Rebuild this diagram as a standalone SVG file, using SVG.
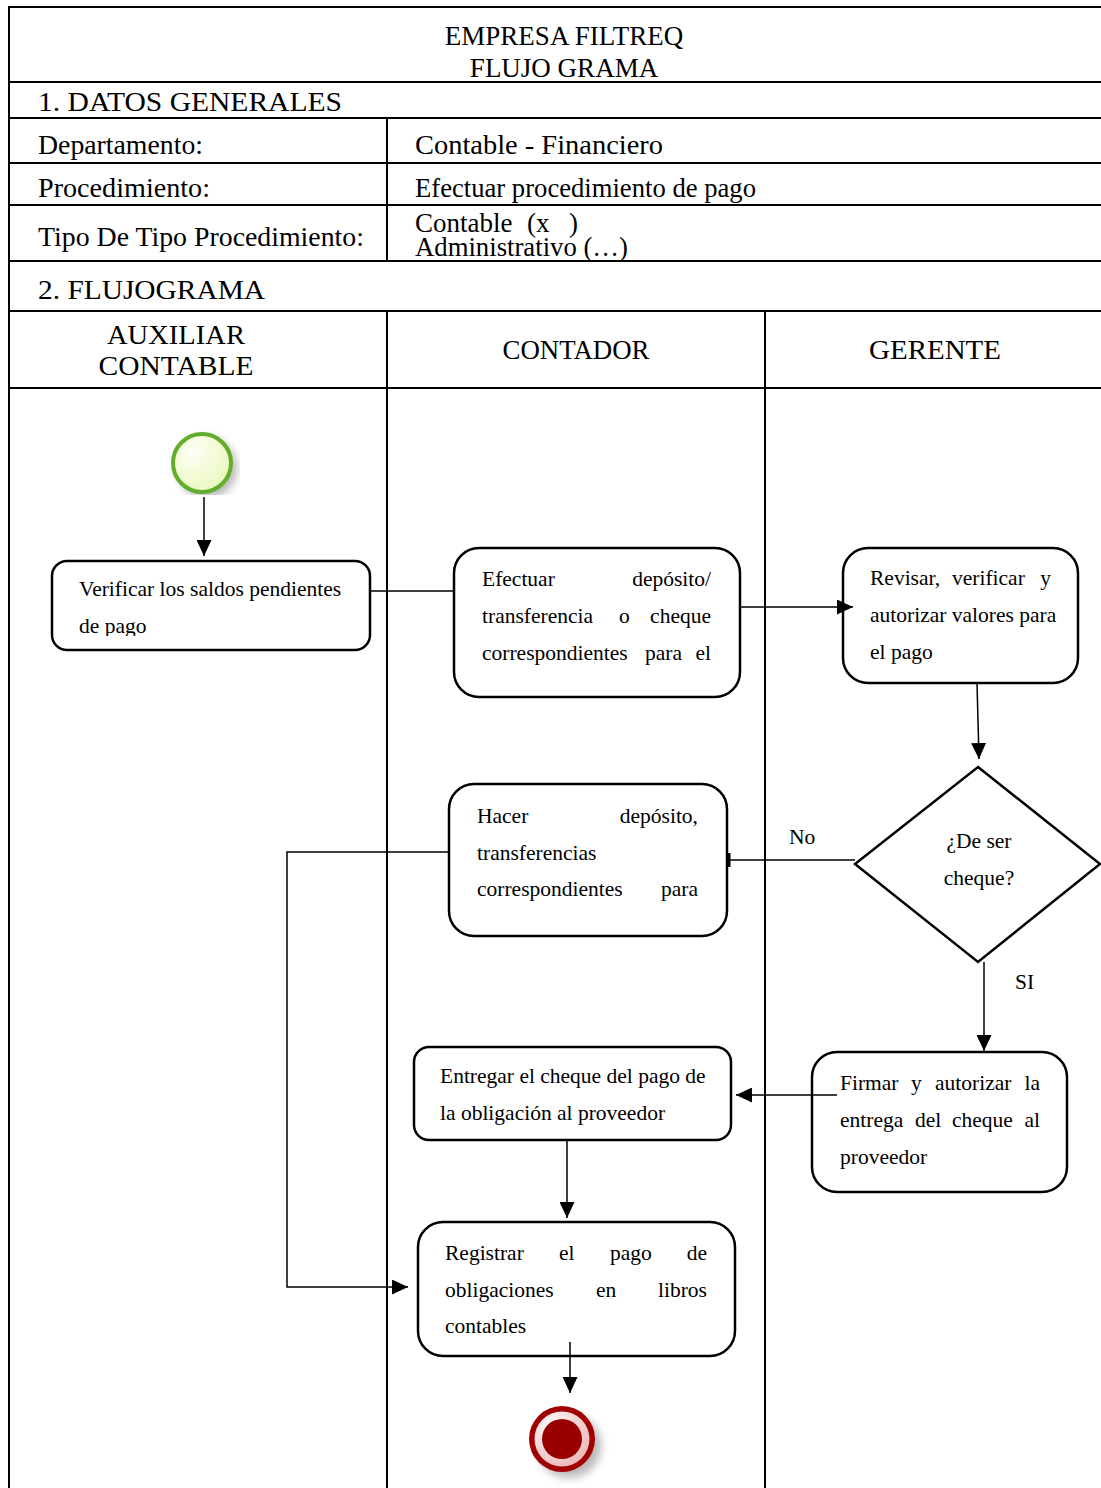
<svg xmlns="http://www.w3.org/2000/svg" width="1101" height="1488" viewBox="0 0 1101 1488">
  <style>
    .grid { stroke: #000; stroke-width: 2; fill: none; }
    .hdr { font-family: "Liberation Serif", "Times New Roman", serif; font-size: 27px; fill: #000; }
    .mid { text-anchor: middle; }
    .end { text-anchor: end; }
    .txt { font-family: "Liberation Serif", "Times New Roman", serif; font-size: 21.5px; fill: #000; }
    .box { fill: #fff; stroke: #000; stroke-width: 2.5; }
    .conn { stroke: #000; stroke-width: 1.5; fill: none; }
  </style>
  <defs>
    <marker id="arrow" markerUnits="userSpaceOnUse" markerWidth="16" markerHeight="15" refX="16" refY="7.5" orient="auto">
      <path d="M0,0 L16,7.5 L0,15 Z" fill="#000"/>
    </marker>
    <radialGradient id="startFill" cx="0.35" cy="0.3" r="0.8">
      <stop offset="0" stop-color="#fdfff6"/>
      <stop offset="1" stop-color="#e9f7b8"/>
    </radialGradient>
    <radialGradient id="endRing" cx="0.35" cy="0.3" r="0.8">
      <stop offset="0" stop-color="#ffffff"/>
      <stop offset="1" stop-color="#eab3b3"/>
    </radialGradient>
    <filter id="soft" x="-50%" y="-50%" width="200%" height="200%">
      <feGaussianBlur stdDeviation="4"/>
    </filter>
    <clipPath id="startShadowClip">
      <rect x="150" y="420" width="90" height="75"/>
    </clipPath>
    <clipPath id="verifClip">
      <rect x="52" y="561" width="318" height="75"/>
    </clipPath>
  </defs>

  <!-- form table -->
  <g id="table">
    <line class="grid" x1="9" y1="7" x2="1101" y2="7"/>
    <line class="grid" x1="9" y1="6" x2="9" y2="1488"/>
    <line class="grid" x1="9" y1="82" x2="1101" y2="82"/>
    <line class="grid" x1="9" y1="118" x2="1101" y2="118"/>
    <line class="grid" x1="9" y1="163" x2="1101" y2="163"/>
    <line class="grid" x1="9" y1="205" x2="1101" y2="205"/>
    <line class="grid" x1="9" y1="261" x2="1101" y2="261"/>
    <line class="grid" x1="9" y1="311" x2="1101" y2="311"/>
    <line class="grid" x1="9" y1="388" x2="1101" y2="388"/>
    <line class="grid" x1="387" y1="118" x2="387" y2="261"/>
    <line class="grid" x1="387" y1="311" x2="387" y2="1488"/>
    <line class="grid" x1="765" y1="311" x2="765" y2="1488"/>

    <text class="hdr mid" x="564" y="45">EMPRESA FILTREQ</text>
    <text class="hdr mid" x="564" y="77">FLUJO GRAMA</text>
    <text class="hdr" x="38" y="111" textLength="304" lengthAdjust="spacingAndGlyphs">1. DATOS GENERALES</text>
    <text class="hdr" x="38" y="154" textLength="165" lengthAdjust="spacingAndGlyphs">Departamento:</text>
    <text class="hdr" x="415" y="154" textLength="248" lengthAdjust="spacingAndGlyphs">Contable - Financiero</text>
    <text class="hdr" x="38" y="197" textLength="172" lengthAdjust="spacingAndGlyphs">Procedimiento:</text>
    <text class="hdr" x="415" y="197" textLength="341" lengthAdjust="spacingAndGlyphs">Efectuar procedimiento de pago</text>
    <text class="hdr" x="38" y="246" textLength="326" lengthAdjust="spacingAndGlyphs">Tipo De Tipo Procedimiento:</text>
    <text class="hdr" x="415" y="232">Contable <tspan x="527">(x </tspan><tspan x="569">)</tspan></text>
    <text class="hdr" x="415" y="256" textLength="213" lengthAdjust="spacingAndGlyphs">Administrativo (…)</text>
    <text class="hdr" x="38" y="299" textLength="227" lengthAdjust="spacingAndGlyphs">2. FLUJOGRAMA</text>

    <text class="hdr mid" x="176" y="344" textLength="138" lengthAdjust="spacingAndGlyphs">AUXILIAR</text>
    <text class="hdr mid" x="176" y="375" textLength="155" lengthAdjust="spacingAndGlyphs">CONTABLE</text>
    <text class="hdr mid" x="576" y="359" textLength="147" lengthAdjust="spacingAndGlyphs">CONTADOR</text>
    <text class="hdr mid" x="935" y="359" textLength="132" lengthAdjust="spacingAndGlyphs">GERENTE</text>
  </g>

  <!-- start event -->
  <g id="start">
    <circle cx="207" cy="468" r="30" fill="#9a9a9a" filter="url(#soft)" clip-path="url(#startShadowClip)" opacity="0.7"/>
    <circle cx="202" cy="463" r="29" fill="url(#startFill)" stroke="#62ad2b" stroke-width="4"/>
  </g>

  <g id="verificar">
    <rect class="box" x="52" y="561" width="318" height="89" rx="15"/>
    <text class="txt" x="79" y="596">Verificar los saldos pendientes</text>
    <text class="txt" x="79" y="633" clip-path="url(#verifClip)">de pago</text>
  </g>

  <g id="efectuar">
    <rect class="box" x="454" y="548" width="286" height="149" rx="25"/>
    <text class="txt" x="482" y="586">Efectuar</text>
    <text class="txt end" x="711" y="586">depósito/</text>
    <text class="txt" x="482" y="623">transferencia</text>
    <text class="txt" x="619" y="623">o</text>
    <text class="txt end" x="711" y="623">cheque</text>
    <text class="txt" x="482" y="660">correspondientes</text>
    <text class="txt" x="645" y="660">para</text>
    <text class="txt end" x="711" y="660">el</text>
  </g>

  <g id="revisar">
    <rect class="box" x="843" y="548" width="235" height="135" rx="25"/>
    <text class="txt" x="870" y="585">Revisar,</text>
    <text class="txt" x="952" y="585">verificar</text>
    <text class="txt end" x="1051" y="585">y</text>
    <text class="txt" x="870" y="622">autorizar valores para</text>
    <text class="txt" x="870" y="659">el pago</text>
  </g>

  <g id="decision">
    <polygon points="978,767 1100,864 978,962 855,864" fill="#fff" stroke="#000" stroke-width="2.5"/>
    <text class="txt mid" x="979" y="848">¿De ser</text>
    <text class="txt mid" x="979" y="885">cheque?</text>
  </g>

  <g id="hacer">
    <rect class="box" x="449" y="784" width="278" height="152" rx="25"/>
    <text class="txt" x="477" y="823">Hacer</text>
    <text class="txt end" x="698" y="823">depósito,</text>
    <text class="txt" x="477" y="860">transferencias</text>
    <text class="txt" x="477" y="896">correspondientes</text>
    <text class="txt end" x="698" y="896">para</text>
  </g>

  <g id="entregar">
    <rect class="box" x="414" y="1047" width="317" height="93" rx="15"/>
    <text class="txt" x="440" y="1083">Entregar el cheque del pago de</text>
    <text class="txt" x="440" y="1120">la obligación al proveedor</text>
  </g>

  <g id="firmar">
    <rect class="box" x="812" y="1052" width="255" height="140" rx="25"/>
    <text class="txt" x="840" y="1090">Firmar</text>
    <text class="txt" x="911" y="1090">y</text>
    <text class="txt" x="935" y="1090">autorizar</text>
    <text class="txt end" x="1040" y="1090">la</text>
    <text class="txt" x="840" y="1127">entrega</text>
    <text class="txt" x="915" y="1127">del</text>
    <text class="txt" x="952" y="1127">cheque</text>
    <text class="txt end" x="1040" y="1127">al</text>
    <text class="txt" x="840" y="1164">proveedor</text>
  </g>

  <g id="registrar">
    <rect class="box" x="418" y="1222" width="317" height="134" rx="25"/>
    <text class="txt" x="445" y="1260">Registrar</text>
    <text class="txt" x="559" y="1260">el</text>
    <text class="txt" x="610" y="1260">pago</text>
    <text class="txt end" x="707" y="1260">de</text>
    <text class="txt" x="445" y="1297">obligaciones</text>
    <text class="txt" x="596" y="1297">en</text>
    <text class="txt end" x="707" y="1297">libros</text>
    <text class="txt" x="445" y="1333">contables</text>
  </g>

  <!-- end event -->
  <g id="end">
    <circle cx="569" cy="1446" r="32" fill="#8a8a8a" filter="url(#soft)" opacity="0.6"/>
    <circle cx="562" cy="1439" r="33" fill="#a00000"/>
    <circle cx="562" cy="1439" r="27.5" fill="url(#endRing)"/>
    <circle cx="562" cy="1439" r="20" fill="#990000"/>
  </g>

  <!-- connectors, drawn over the shapes -->
  <g id="connectors">
    <line class="conn" x1="204" y1="497" x2="204" y2="556" marker-end="url(#arrow)"/>
    <line class="conn" x1="370" y1="591" x2="454" y2="591"/>
    <line class="conn" x1="741" y1="607" x2="853" y2="607" marker-end="url(#arrow)"/>
    <line class="conn" x1="977" y1="683" x2="979" y2="759" marker-end="url(#arrow)"/>
    <line class="conn" x1="855" y1="860" x2="729" y2="860"/>
    <rect x="727" y="853" width="3.5" height="14" fill="#000"/>
    <polyline class="conn" points="449,852 287,852 287,1287 408,1287" marker-end="url(#arrow)"/>
    <line class="conn" x1="984" y1="962" x2="984" y2="1051" marker-end="url(#arrow)"/>
    <line class="conn" x1="837" y1="1095" x2="736" y2="1095" marker-end="url(#arrow)"/>
    <line class="conn" x1="567" y1="1140" x2="567" y2="1218" marker-end="url(#arrow)"/>
    <line class="conn" x1="570" y1="1342" x2="570" y2="1393" marker-end="url(#arrow)"/>
    <text class="txt" x="789" y="844">No</text>
    <text class="txt" x="1015" y="989">SI</text>
  </g>
</svg>
